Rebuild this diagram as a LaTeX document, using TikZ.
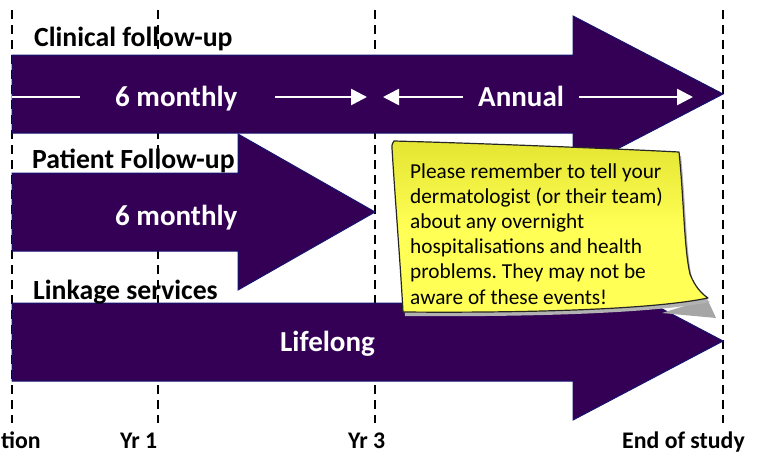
\documentclass[tikz,border=0pt]{standalone}
\usepackage{fontspec}
\setmainfont{Carlito}
\usetikzlibrary{arrows.meta}
\frenchspacing
\definecolor{arrowfill}{RGB}{51,0,85}
\definecolor{arrowline}{RGB}{20,20,110}
\definecolor{noteyellow}{RGB}{255,255,85}
\definecolor{notetop}{RGB}{228,228,50}
\begin{document}
\begin{tikzpicture}[x=1pt,y=-1pt,
 bigarrow/.style={fill=arrowfill,draw=arrowline,line width=1pt,line join=miter},
 timeline/.style={draw=black,line width=2.6pt,dash pattern=on 9pt off 6pt},
 lbl/.style={font=\fontsize{27.7}{33}\selectfont\bfseries,anchor=base west,inner sep=0pt},
 wlbl/.style={font=\fontsize{29}{35}\selectfont\bfseries,text=white,anchor=base west,inner sep=0pt},
 axlbl/.style={font=\fontsize{23.8}{28}\selectfont\bfseries,anchor=base west,inner sep=0pt},
 notetxt/.style={font=\fontsize{21.3}{25}\selectfont,anchor=base west,inner sep=0pt},
 inline/.style={draw=white,line width=2.6pt},
 inarrow/.style={inline,-{Triangle[length=16pt,width=16pt]}},
 notestyle/.style={top color=notetop,bottom color=noteyellow,middle color=noteyellow,draw=black!85,line width=1.2pt,line join=round},
 noteshadow/.style={fill=black!35},
]
\useasboundingbox (0,0) rectangle (759,455);

% timeline markers
\foreach \nm/\xx in {t0/12,t1/158,t3/375,te/723}{
  \coordinate (\nm top) at (\xx,10);
  \coordinate (\nm bot) at (\xx,423);
  \draw[timeline] (\nm top) -- (\nm bot);
}

% clinical follow-up arrow
\path[bigarrow] (12,55) -- (573,55) -- (573,16) -- (723,94) -- (573,172) -- (573,133) -- (12,133) -- cycle;
% patient follow-up arrow
\path[bigarrow] (12,173) -- (238,173) -- (238,134) -- (375,212) -- (238,290) -- (238,251) -- (12,251) -- cycle;
% linkage arrow
\path[bigarrow] (12,303) -- (573,303) -- (573,262) -- (723,341) -- (573,420) -- (573,381) -- (12,381) -- cycle;

% labels
\node[lbl] (clin) at (34,46.8) {Clinical follow-up};
\node[lbl] (pat) at (32,168.5) {Patient Follow-up};
\node[lbl] (link) at (33,299.5) {Linkage services};

\node[wlbl] (clin6) at (115,106.8) {6 monthly};
\node[wlbl] (annual) at (478,106.8) {Annual};
\node[wlbl] (pat6) at (115,225.5) {6 monthly};
\node[wlbl] (life) at (280,351.5) {Lifelong};

% white inner arrows
\coordinate (a1s) at (12,97);   \coordinate (a1e) at (80,97);
\coordinate (a2s) at (275,97);  \coordinate (a2e) at (367,97);
\coordinate (a3s) at (463,97);  \coordinate (a3e) at (383,97);
\coordinate (a4s) at (579,97);  \coordinate (a4e) at (693,97);
\draw[inline] (a1s) -- (a1e);
\draw[inarrow] (a2s) -- (a2e);
\draw[inarrow] (a3s) -- (a3e);
\draw[inarrow] (a4s) -- (a4e);

% axis labels
\node[axlbl] (x0) at (1,448) {tion};
\node[axlbl] (x1) at (120,448) {Yr 1};
\node[axlbl] (x3) at (348,448) {Yr 3};
\node[axlbl] (xe) at (622,448) {End of study};

% sticky note
\fill[noteshadow] (662,313) -- (707,299) .. controls (711,307) .. (716,318) -- cycle;
\fill[black!30] (396,145) .. controls (470,147) and (600,152) .. (681,156)
  .. controls (686,205) and (686,252) .. (692,278)
  .. controls (697,291) and (704,298) .. (710,302)
  .. controls (650,314) and (520,317) .. (405,316)
  .. controls (402,262) and (397,202) .. (395,152) -- cycle;
\path[notestyle] (394,141) .. controls (470,143) and (600,148) .. (679,152)
  .. controls (684,201) and (684,248) .. (690,274)
  .. controls (695,287) and (702,294) .. (708,298)
  .. controls (650,310) and (520,313) .. (403,312)
  .. controls (400,258) and (395,198) .. (392,148)
  .. controls (392,144) .. cycle;

\node[notetxt] (n1) at (410,178) {Please remember to tell your};
\node[notetxt] (n2) at (410,203.2) {dermatologist (or their team)};
\node[notetxt] (n3) at (410,228.4) {about any overnight};
\node[notetxt] (n4) at (410,253.6) {hospitalisations and health};
\node[notetxt] (n5) at (410,278.8) {problems. They may not be};
\node[notetxt] (n6) at (410,304) {aware of these events!};
\end{tikzpicture}
\end{document}
